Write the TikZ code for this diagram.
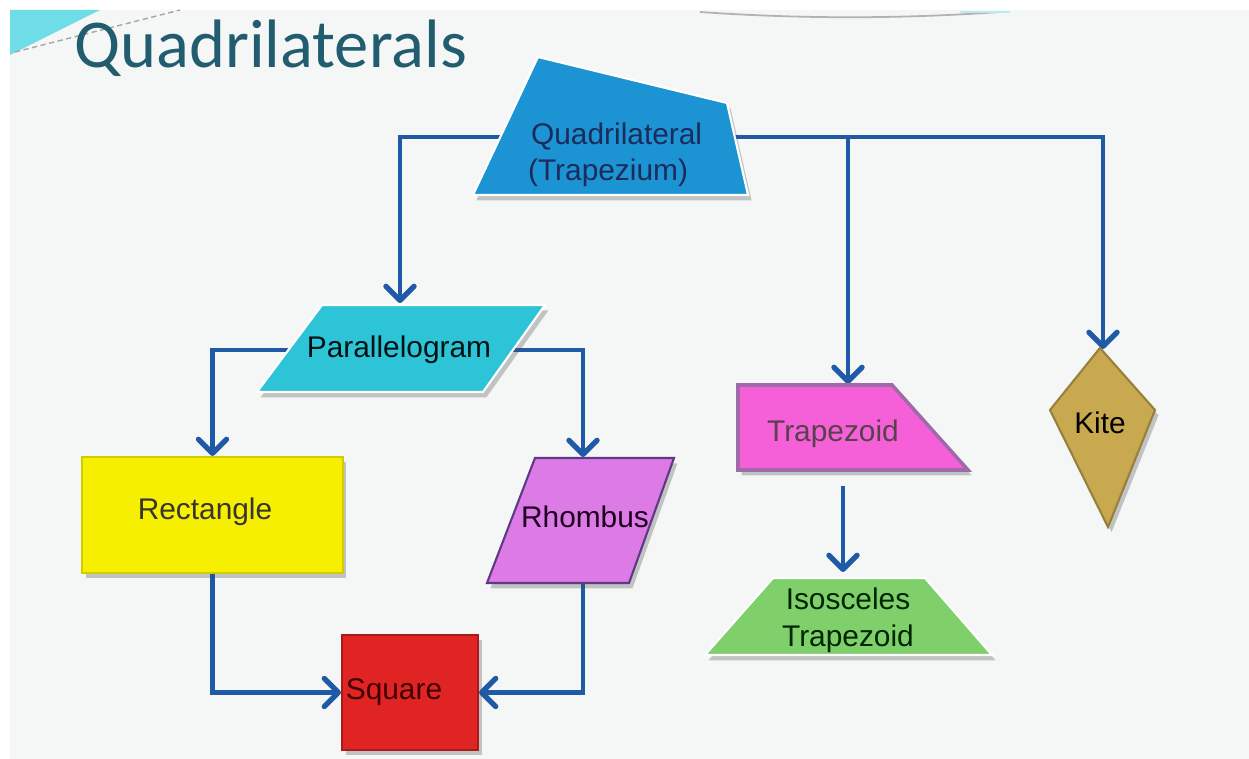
\documentclass[tikz,border=0pt]{standalone}
\usepackage{fontspec}
\setmainfont{Liberation Sans}
\newfontfamily\titlefont{Carlito}
\usetikzlibrary{arrows.meta, calc, shadows}
\definecolor{pagebg}{HTML}{F5F6F6}
\definecolor{titleteal}{HTML}{215D6F}
\definecolor{linkblue}{HTML}{1F5AA6}
\definecolor{qdblue}{HTML}{1C93D3}
\definecolor{qdtext}{HTML}{1B2C5C}
\definecolor{parcyan}{HTML}{2EC4D8}
\definecolor{rectyellow}{HTML}{F6F000}
\definecolor{rhviolet}{HTML}{DD7BE6}
\definecolor{rhborder}{HTML}{5E3A86}
\definecolor{sqred}{HTML}{E02424}
\definecolor{trappink}{HTML}{F560D8}
\definecolor{trapborder}{HTML}{9E6AA8}
\definecolor{isogreen}{HTML}{7FCF6B}
\definecolor{kitetan}{HTML}{C9A950}
\definecolor{swoosh}{HTML}{6EDDE8}
\pgfdeclarelayer{background}
\pgfdeclarelayer{lines}
\pgfsetlayers{background,lines,main}

\begin{document}
\begin{tikzpicture}[x=0.02cm, y=-0.02cm,
  >={Straight Barb[length=8pt, width=16pt, line width=3pt, round]},
  conn/.style={->, line width=2.6pt, linkblue},
  shp/.style={draw=white, line width=1.2pt,
    drop shadow={shadow xshift=2pt, shadow yshift=-3pt, opacity=0.3, fill=black!70}},
  lbl/.style={font=\fontsize{17}{21}\selectfont, inner sep=1pt}]

  \useasboundingbox (0,0) rectangle (1249,759);

  % --- page background and top decoration ---
  \begin{pgfonlayer}{background}
    \fill[white] (0,0) rectangle (1249,759);
    \fill[pagebg] (10,10) rectangle (1249,759);
    \fill[swoosh] (10,10) -- (100,10) -- (10,55) -- cycle;
    \draw[gray!70, densely dashed, line width=0.8pt] (15,52) -- (180,10);
    \draw[gray!60, line width=1pt] (700,12) .. controls (800,19) and (900,19) .. (1000,12);
    \draw[swoosh!50, line width=1.5pt] (960,12) -- (1010,12);
  \end{pgfonlayer}

  % --- title ---
  \node[anchor=base west, inner sep=0pt, text=titleteal,
        font=\titlefont\fontsize{39}{44}\selectfont] (title) at (74,68) {Quadrilaterals};

  % --- shapes ---
  \path[shp, fill=qdblue] (538,57) -- (727,103) -- (748,195) -- (473,195) -- cycle;
  \path[shp, fill=parcyan] (322,305) -- (545,305) -- (483,392) -- (257,392) -- cycle;
  \node[shp, draw=rectyellow!85!black, fill=rectyellow, minimum width=5.22cm,
        minimum height=2.32cm, inner sep=0pt] (rect) at (212.5,515) {};
  \path[shp, draw=rhborder, fill=rhviolet] (535,458) -- (674,458) -- (629,583) -- (487,583) -- cycle;
  \node[shp, draw=sqred!75!black, fill=sqred, minimum width=2.72cm,
        minimum height=2.3cm, inner sep=0pt] (sq) at (410,692.5) {};
  \path[shp, draw=trapborder, line width=2pt, fill=trappink] (738,385) -- (892,385) -- (968,470) -- (738,470) -- cycle;
  \path[shp, fill=isogreen] (773,578) -- (925,578) -- (992,655) -- (705,655) -- cycle;
  \path[shp, draw=kitetan!75!black, fill=kitetan] (1100,348) -- (1155,410) -- (1108,527) -- (1050,410) -- cycle;

  % --- labels ---
  \node[lbl, anchor=west, text=qdtext, inner xsep=5pt] (qdA) at (522,137) {Quadrilateral};
  \node[lbl, anchor=west, text=qdtext] (qdB) at (526,173) {(Trapezium)};
  \node[lbl, text=black!85!teal, inner xsep=9pt] (par) at (399,350) {Parallelogram};
  \node[lbl, text=black!90!yellow] (recttxt) at (205,512) {Rectangle};
  \node[lbl, text=black!75!violet] (rhtxt) at (585,517) {Rhombus};
  \node[lbl, text=black!75!red] (sqtxt) at (394,692) {Square};
  \node[lbl, text=black!75!magenta] (traptxt) at (833,434) {Trapezoid};
  \node[lbl, align=center, text=black!85!green] (isotxt) at (848,620) {Isosceles\\Trapezoid};
  \node[lbl, text=black] (kitetxt) at (1100,423) {Kite};

  % --- connector end points on the shapes ---
  \coordinate (parT) at (400,303);
  \coordinate (rhT) at (583,457);
  \coordinate (rhB) at (583,583);
  \coordinate (trapT) at (848,384);
  \coordinate (trapB) at (843,486);
  \coordinate (isoT) at (843,572);
  \coordinate (kiteT) at (1103,349);

  % --- connectors ---
  \begin{pgfonlayer}{lines}
    \draw[conn] (qdA.west) -| (parT);
    \draw[conn] (qdA.east) -| (kiteT);
    \draw[conn] (trapT |- qdA.east) -- (trapT);
    \draw[conn] (par.west) -| (rect.north);
    \draw[conn] (par.east) -| (rhT);
    \draw[conn] (rect.south) |- (sq.west);
    \draw[conn] (rhB) |- (sq.east);
    \draw[conn] (trapB) -- (isoT);
  \end{pgfonlayer}

\end{tikzpicture}
\end{document}
